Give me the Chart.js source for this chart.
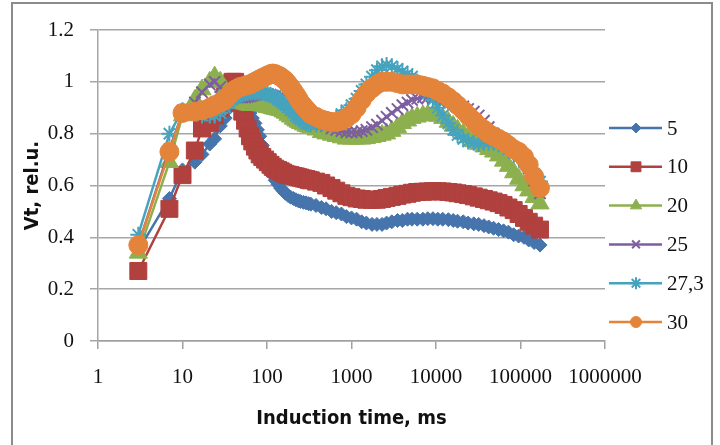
<!DOCTYPE html>
<html>
<head>
<meta charset="utf-8">
<script src="https://cdn.jsdelivr.net/npm/chart.js@4.4.1/dist/chart.umd.min.js"></script>
<style>
  html, body { margin: 0; padding: 0; background: #fff; }
  #frame { position: absolute; left: 11px; top: 2px; width: 698px; height: 470px; border: 2px solid #8c8c8c; }
  #myChart { position: absolute; left: 0; top: 0; }
</style>
</head>
<body>
<div id="frame"></div>
<canvas id="myChart" width="720" height="445"></canvas>
<script>
// induction time, ms
const times = [3, 7, 10, 14, 17, 21, 24, 28,
  32, 36, 39, 42, 45, 48, 51, 55, 59, 63, 67, 72, 77, 82, 88, 95, 102,
  110, 117, 125, 135, 145, 155, 165, 177, 190, 205, 220, 235, 250, 270, 290, 310, 330,
  380, 440, 500, 580, 660, 760, 870, 1000, 1150, 1320,
  1500, 1750, 2000, 2300, 2600, 3000, 3500, 4000, 4600, 5200,
  6000, 7000, 8000, 9200, 10500, 12000, 14000, 16000, 18000, 21000,
  24000, 28000, 32000, 37000, 42000, 48000, 55000, 63000, 72000, 83000,
  95000, 110000, 125000, 145000, 170000];

// Vt, rel.u. per series
const vt5 = [0.35, 0.55, 0.66, 0.69, 0.72, 0.76, 0.78, 0.83,
  0.86, 0.90, 0.92, 0.93, 0.935, 0.93, 0.92, 0.91, 0.89, 0.88, 0.86, 0.84, 0.815, 0.79, 0.755, 0.72, 0.69,
  0.66, 0.64, 0.62, 0.605, 0.59, 0.58, 0.57, 0.562, 0.555, 0.55, 0.545, 0.541, 0.538, 0.535, 0.533, 0.53, 0.528,
  0.523, 0.515, 0.51, 0.50, 0.495, 0.49, 0.48, 0.475, 0.47, 0.46,
  0.455, 0.45, 0.45, 0.45, 0.455, 0.46, 0.465, 0.465, 0.47, 0.47,
  0.47, 0.47, 0.472, 0.472, 0.47, 0.47, 0.468, 0.465, 0.462, 0.46,
  0.455, 0.452, 0.45, 0.445, 0.44, 0.435, 0.43, 0.425, 0.42, 0.41,
  0.405, 0.40, 0.39, 0.38, 0.37];
const vt10 = [0.27, 0.51, 0.64, 0.735, 0.82, 0.84, 0.87, 0.90,
  0.95, 0.99, 1.0, 1.0, 0.96, 0.92, 0.885, 0.85, 0.82, 0.79, 0.77, 0.75, 0.735, 0.72, 0.71, 0.70, 0.69,
  0.68, 0.672, 0.665, 0.66, 0.655, 0.65, 0.645, 0.642, 0.64, 0.637, 0.635, 0.632, 0.63, 0.627, 0.625, 0.622, 0.62,
  0.615, 0.61, 0.60, 0.59, 0.58, 0.57, 0.56, 0.555, 0.55, 0.548,
  0.545, 0.545, 0.545, 0.548, 0.552, 0.556, 0.56, 0.565, 0.568, 0.572,
  0.575, 0.576, 0.577, 0.578, 0.578, 0.577, 0.575, 0.573, 0.57, 0.567,
  0.563, 0.558, 0.553, 0.548, 0.543, 0.538, 0.532, 0.525, 0.515, 0.505,
  0.49, 0.475, 0.46, 0.445, 0.43];
const vt20 = [0.34, 0.69, 0.87, 0.93, 0.97, 1.0, 1.02, 1.0,
  0.97, 0.95, 0.94, 0.93, 0.925, 0.92, 0.917, 0.915, 0.912, 0.91, 0.91, 0.91, 0.91, 0.91, 0.908, 0.905, 0.902,
  0.90, 0.897, 0.895, 0.892, 0.89, 0.885, 0.88, 0.872, 0.865, 0.857, 0.85, 0.845, 0.84, 0.835, 0.83, 0.827, 0.825,
  0.815, 0.805, 0.80, 0.795, 0.79, 0.785, 0.78, 0.78, 0.78, 0.78,
  0.782, 0.786, 0.79, 0.795, 0.80, 0.81, 0.825, 0.84, 0.85, 0.86,
  0.865, 0.87, 0.872, 0.872, 0.868, 0.86, 0.845, 0.83, 0.815, 0.80,
  0.785, 0.77, 0.76, 0.75, 0.74, 0.73, 0.715, 0.695, 0.675, 0.65,
  0.625, 0.60, 0.58, 0.555, 0.53];
const vt25 = [0.37, 0.74, 0.88, 0.92, 0.96, 0.99, 1.0, 0.98,
  0.96, 0.95, 0.945, 0.94, 0.94, 0.94, 0.94, 0.94, 0.942, 0.945, 0.947, 0.95, 0.952, 0.955, 0.955, 0.955, 0.953,
  0.95, 0.947, 0.945, 0.94, 0.935, 0.93, 0.925, 0.918, 0.91, 0.902, 0.895, 0.887, 0.88, 0.872, 0.865, 0.86, 0.855,
  0.845, 0.835, 0.83, 0.82, 0.815, 0.81, 0.805, 0.805, 0.805, 0.81,
  0.815, 0.825, 0.835, 0.85, 0.865, 0.88, 0.895, 0.91, 0.92, 0.93,
  0.935, 0.94, 0.94, 0.935, 0.93, 0.925, 0.92, 0.915, 0.91, 0.905,
  0.895, 0.885, 0.87, 0.85, 0.825, 0.80, 0.78, 0.765, 0.75, 0.735,
  0.72, 0.695, 0.665, 0.62, 0.57];
const vt273 = [0.41, 0.80, 0.89, 0.88, 0.87, 0.87, 0.87, 0.88,
  0.90, 0.92, 0.93, 0.94, 0.945, 0.95, 0.952, 0.955, 0.957, 0.96, 0.96, 0.96, 0.96, 0.96, 0.957, 0.955, 0.952,
  0.95, 0.945, 0.94, 0.932, 0.925, 0.917, 0.91, 0.90, 0.89, 0.88, 0.87, 0.862, 0.855, 0.847, 0.84, 0.837, 0.835,
  0.835, 0.84, 0.845, 0.85, 0.86, 0.875, 0.89, 0.91, 0.935, 0.965,
  0.99, 1.02, 1.045, 1.06, 1.065, 1.06, 1.05, 1.04, 1.03, 1.02,
  1.0, 0.98, 0.955, 0.93, 0.90, 0.87, 0.84, 0.815, 0.795, 0.78,
  0.77, 0.765, 0.76, 0.765, 0.765, 0.765, 0.76, 0.75, 0.74, 0.725,
  0.71, 0.69, 0.67, 0.645, 0.615];
const vt30 = [0.37, 0.73, 0.88, 0.885, 0.89, 0.90, 0.91, 0.92,
  0.93, 0.95, 0.96, 0.97, 0.975, 0.98, 0.982, 0.985, 0.988, 0.99, 0.995, 1.0, 1.005, 1.01, 1.015, 1.02, 1.025,
  1.03, 1.032, 1.03, 1.025, 1.02, 1.012, 1.005, 0.993, 0.98, 0.965, 0.95, 0.935, 0.92, 0.907, 0.895, 0.885, 0.875,
  0.865, 0.855, 0.85, 0.845, 0.845, 0.85, 0.86, 0.875, 0.90, 0.93,
  0.955, 0.975, 0.99, 1.0, 1.0, 1.0, 0.995, 0.99, 0.99, 0.99,
  0.99, 0.985, 0.98, 0.975, 0.965, 0.955, 0.94, 0.925, 0.91, 0.89,
  0.87, 0.85, 0.83, 0.815, 0.80, 0.79, 0.78, 0.77, 0.755, 0.74,
  0.73, 0.71, 0.68, 0.635, 0.59];

const seriesNames = ['5', '10', '20', '25', '27,3', '30'];
const seriesValues = [vt5, vt10, vt20, vt25, vt273, vt30];
const xTicks = [1, 10, 100, 1000, 10000, 100000, 1000000];
const yTicks = [0, 0.2, 0.4, 0.6, 0.8, 1, 1.2];

const colors = ['#4674ac', '#b0413e', '#8db04f', '#7d5fa0', '#46a3be', '#e4843a'];
const styles = ['rectRot', 'rect', 'triangle', 'crossRot', 'star', 'circle'];
const radii = [7, 12, 10.5, 8, 8, 9.5];
const legendRadii = [5, 7, 6.5, 5.5, 6, 5.5];

const tickFont = "'Liberation Serif', 'Times New Roman', serif";
const titleFont = "'Liberation Sans Narrow', 'DejaVu Sans Condensed', 'Liberation Sans', sans-serif";

const datasets = seriesNames.map(function (name, i) {
    const stroked = styles[i] === 'crossRot' || styles[i] === 'star';
    return {
        label: name,
        data: times.map(function (t, j) { return { x: t, y: seriesValues[i][j] }; }),
        borderColor: colors[i],
        backgroundColor: colors[i],
        borderWidth: 2.5,
        tension: 0,
        pointStyle: styles[i],
        pointRadius: radii[i],
        pointBorderWidth: stroked ? 2 : 1,
        pointBackgroundColor: colors[i],
        pointBorderColor: colors[i],
        order: seriesNames.length - i
    };
});

// legend down the right side: line with a marker in the middle
const sideLegend = {
    id: 'sideLegend',
    afterDraw(chart) {
        const ctx = chart.ctx;
        ctx.save();
        chart.data.datasets.forEach(function (ds, i) {
            const y = 128 + i * 38.8;
            ctx.strokeStyle = ds.borderColor;
            ctx.fillStyle = ds.borderColor;
            ctx.lineWidth = 2.5;
            ctx.beginPath();
            ctx.moveTo(609, y);
            ctx.lineTo(662, y);
            ctx.stroke();
            ctx.lineWidth = ds.pointBorderWidth;
            Chart.helpers.drawPoint(ctx, {
                pointStyle: ds.pointStyle,
                radius: legendRadii[i],
                borderWidth: ds.pointBorderWidth,
                rotation: 0
            }, 636, y);
            ctx.fillStyle = '#111';
            ctx.font = '21px ' + tickFont;
            ctx.textAlign = 'left';
            ctx.textBaseline = 'middle';
            ctx.fillText(ds.label, 667, y + 1);
        });
        ctx.restore();
    }
};

new Chart(document.getElementById('myChart'), {
    type: 'line',
    data: { datasets: datasets },
    plugins: [sideLegend],
    options: {
        responsive: false,
        animation: false,
        layout: { padding: { left: 12, right: 115, top: 30, bottom: 0 } },
        plugins: { legend: { display: false }, tooltip: { enabled: false } },
        scales: {
            x: {
                type: 'logarithmic',
                min: 1,
                max: 1000000,
                afterBuildTicks: function (scale) { scale.ticks = xTicks.map(function (v) { return { value: v }; }); },
                afterFit: function (scale) { scale.height = 104; },
                ticks: {
                    autoSkip: false,
                    maxRotation: 0,
                    padding: 16,
                    color: '#111',
                    font: { family: tickFont, size: 21 },
                    callback: function (v) { return String(v); }
                },
                grid: { drawOnChartArea: false, drawTicks: true, tickLength: 8, color: '#a0a0a0', lineWidth: 1.5 },
                border: { color: '#a0a0a0', width: 1.5 },
                title: {
                    display: true,
                    text: 'Induction time, ms',
                    color: '#111',
                    font: { family: titleFont, size: 20, weight: 'bold' },
                    padding: { top: 0, bottom: 14 }
                }
            },
            y: {
                min: 0,
                max: 1.2,
                afterBuildTicks: function (scale) { scale.ticks = yTicks.map(function (v) { return { value: v }; }); },
                afterFit: function (scale) { scale.width = 86; },
                ticks: {
                    padding: 16,
                    color: '#111',
                    font: { family: tickFont, size: 21 },
                    callback: function (v) { return String(v); }
                },
                grid: { color: '#a6a6a6', lineWidth: 1.5, tickLength: 8 },
                border: { color: '#a6a6a6', width: 1.5 },
                title: {
                    display: true,
                    text: 'Vt, rel.u.',
                    color: '#111',
                    font: { family: titleFont, size: 20, weight: 'bold' },
                    padding: { top: 9, bottom: 0 }
                }
            }
        }
    }
});
</script>
</body>
</html>
